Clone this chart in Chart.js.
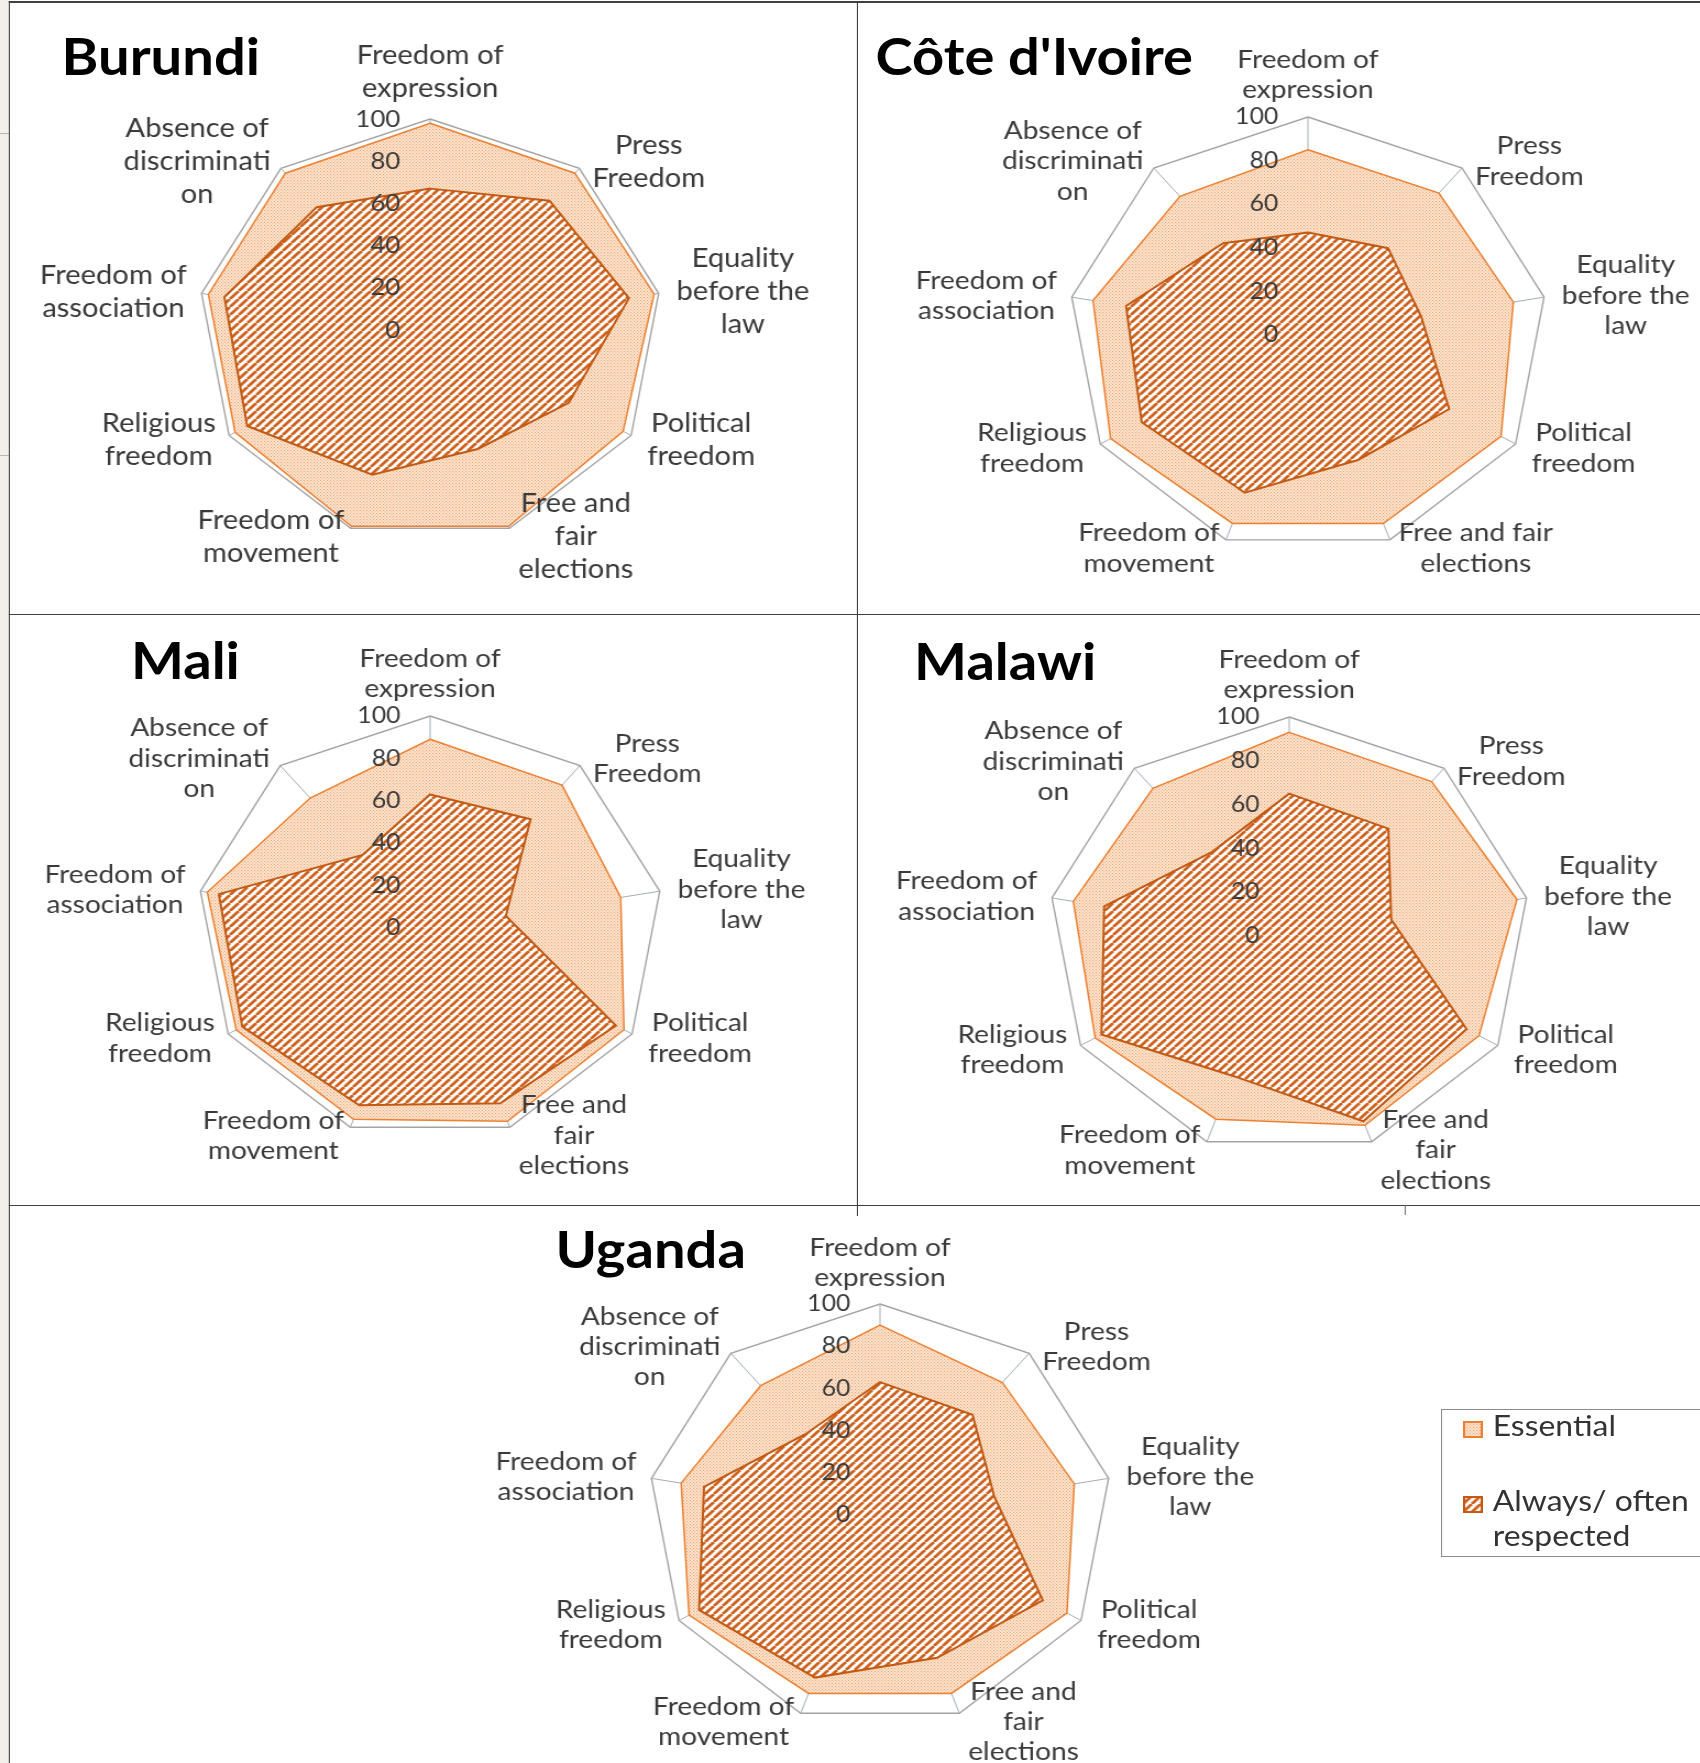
<!DOCTYPE html>
<html>
<head>
<meta charset="utf-8">
<title>Rights: essential vs. respected</title>
<script src="https://cdn.jsdelivr.net/npm/chart.js@4.4.0/dist/chart.umd.min.js"></script>
<style>
  html, body { margin: 0; padding: 0; width: 1700px; height: 1763px; overflow: hidden; background: #fff; }
  #page {
    position: absolute; left: 0; top: 0; width: 1546px; height: 1763px;
    transform: scaleX(1.1); transform-origin: 0 0;
    font-family: Lato, "Open Sans", sans-serif;
  }
  .strip { position: absolute; left: 0; top: 0; width: 8.2px; height: 1763px; background: #f3f0ea; }
  .nick { position: absolute; left: 0; width: 8px; height: 1px; background: #b9b6b0; }
  .rule { position: absolute; background: #404040; }
  .title { position: absolute; font-weight: 700; font-size: 51px; line-height: 1; color: #000; white-space: nowrap; }
  canvas.radar { position: absolute; }
  #legend {
    position: absolute; left: 1310px; top: 1409px; width: 260px; height: 148px;
    border: 1.5px solid #8c8c8c; box-sizing: border-box; background: #fff;
  }
  .lg-mark { position: absolute; }
  .lg-text { position: absolute; width: 205px; font-size: 29px; line-height: 35px; color: #333; }
</style>
</head>
<body>
<div id="page">
  <div class="strip"></div>
  <div class="nick" style="top:133px"></div>
  <div class="nick" style="top:455px"></div>

  <div class="rule" style="left:8.2px; top:1px; width:1540px; height:1.5px"></div>
  <div class="rule" style="left:8.2px; top:1px; width:1.2px; height:1762px"></div>
  <div class="rule" style="left:779px; top:1px; width:1.2px; height:1215px"></div>
  <div class="rule" style="left:8.2px; top:613.5px; width:1540px; height:1.5px"></div>
  <div class="rule" style="left:8.2px; top:1204.5px; width:1540px; height:1.5px"></div>
  <div class="rule" style="left:1277px; top:1205px; width:1px; height:10px; background:#777"></div>

  <div id="charts"></div>

  <div id="legend"></div>
</div>

<script>
// Category axes, clockwise from the top
const categories = [
  'Freedom of expression', 'Press Freedom', 'Equality before the law',
  'Political freedom', 'Free and fair elections', 'Freedom of movement',
  'Religious freedom', 'Freedom of association', 'Absence of discrimination'
];
// Axis captions as they wrap around each web
const categoryLines = [
  ['Freedom of', 'expression'], ['Press', 'Freedom'], ['Equality', 'before the', 'law'],
  ['Political', 'freedom'], ['Free and', 'fair', 'elections'], ['Freedom of', 'movement'],
  ['Religious', 'freedom'], ['Freedom of', 'association'], ['Absence of', 'discriminati', 'on']
];
const categoryLinesWide = [
  ['Freedom of', 'expression'], ['Press', 'Freedom'], ['Equality', 'before the', 'law'],
  ['Political', 'freedom'], ['Free and fair', 'elections'], ['Freedom of', 'movement'],
  ['Religious', 'freedom'], ['Freedom of', 'association'], ['Absence of', 'discriminati', 'on']
];
const radialTicks = [0, 20, 40, 60, 80, 100];
const seriesNames = ['Essential', 'Always/ often respected'];
const countries = ['Burundi', "Côte d'Ivoire", 'Mali', 'Malawi', 'Uganda'];

// Percentages per category (same order as categories)
const burundiEssential = [98, 97, 98, 96, 99, 99, 97, 97, 97];
const burundiRespected = [67, 80, 87, 69, 60, 73, 91, 90, 76];
const coteEssential    = [85, 85, 87, 93, 92, 92, 95, 91, 83];
const coteRespected    = [47, 52, 48, 68, 61, 77, 80, 77, 55];
const maliEssential    = [89, 88, 83, 96, 97, 96, 96, 97, 80];
const maliRespected    = [63, 67, 33, 92, 88, 89, 93, 92, 45];
const malawiEssential  = [93, 92, 96, 91, 92, 89, 93, 91, 88];
const malawiRespected  = [65, 64, 43, 85, 90, 68, 90, 78, 50];
const ugandaEssential  = [90, 82, 85, 93, 90, 90, 95, 87, 80];
const ugandaRespected  = [63, 62, 50, 81, 72, 82, 90, 77, 50];

const STRETCH = 1.1;          // page is drawn in a narrow frame, then widened
const FONT_FAMILY = 'Lato, "Open Sans", sans-serif';
const TEXT_COLOR = '#3a3a3a';

// Fine dot texture for the "Essential" area
function dotPattern() {
  const c = document.createElement('canvas');
  c.width = 12; c.height = 12;
  const g = c.getContext('2d');
  g.fillStyle = '#fce5d0'; g.fillRect(0, 0, 12, 12);
  g.fillStyle = '#e98844';
  for (let y = 0; y < 12; y += 6) {
    for (let x = 0; x < 12; x += 6) {
      g.fillRect(x, y, 1.7, 1.7);
      g.fillRect(x + 3, y + 3, 1.7, 1.7);
    }
  }
  const p = g.createPattern(c, 'repeat');
  p.setTransform(new DOMMatrix([0.5, 0, 0, 0.5, 0, 0]));
  return p;
}

// Wide upward diagonal hatching for the "respected" area
function stripePattern() {
  const n = 16;
  const c = document.createElement('canvas');
  c.width = n; c.height = n;
  const g = c.getContext('2d');
  g.fillStyle = '#ffffff'; g.fillRect(0, 0, n, n);
  g.strokeStyle = '#cf6420'; g.lineWidth = 5.6;
  g.beginPath();
  for (let k = -1; k <= 1; k++) { g.moveTo(k * n, n); g.lineTo(k * n + n, 0); }
  g.stroke();
  const p = g.createPattern(c, 'repeat');
  p.setTransform(new DOMMatrix([0.5, 0, 0, 0.5, 0, 0]));
  return p;
}

// Tick values along the top spoke and wrapped captions outside each vertex
function axisText(lines, fontPx, lineH, topGap) {
  return {
    id: 'axisText',
    afterDatasetsDraw(chart) {
      const scale = chart.scales.r;
      const ctx = chart.ctx;
      ctx.save();
      ctx.fillStyle = TEXT_COLOR;
      ctx.font = `${fontPx - 3}px ${FONT_FAMILY}`;
      ctx.textAlign = 'right';
      ctx.textBaseline = 'middle';
      scale.ticks.forEach(t => {
        const y = scale.yCenter - scale.getDistanceFromCenterForValue(t.value);
        ctx.fillText(String(t.value), scale.xCenter - 27, y);
      });

      ctx.font = `${fontPx}px ${FONT_FAMILY}`;
      ctx.textAlign = 'center';
      lines.forEach((ls, i) => {
        const p = scale.getPointPosition(i, scale.drawingArea);
        const a = scale.getIndexAngle(i);
        const s = Math.sin(a), c = Math.cos(a);
        const w = Math.max(...ls.map(l => ctx.measureText(l).width));
        const n = ls.length;
        let cx, cy;
        if (Math.abs(s) < 1e-6) {
          cx = p.x;
          cy = p.y - topGap - (n - 1) * lineH / 2;
        } else if (s > 0) {
          cx = p.x + (4 + 14 * Math.abs(s)) / STRETCH + w / 2;
          cy = p.y - 9 * c;
        } else {
          cx = p.x - (2 + 13 * Math.abs(s)) / STRETCH - w / 2;
          cy = p.y - 9 * c;
        }
        ls.forEach((l, k) => ctx.fillText(l, cx, cy + (k - (n - 1) / 2) * lineH));
      });
      ctx.restore();
    }
  };
}

// Frames (narrow page units): canvas box, web centre and radius, caption size
const panels = [
  { name: countries[0], lines: categoryLines,     ess: burundiEssential, resp: burundiRespected,
    box: [9, 3, 770, 610],   cx: 391,    cy: 330.5, r: 211, font: 26.5, lh: 33, gap: 31, title: [56, 30] },
  { name: countries[1], lines: categoryLinesWide, ess: coteEssential,    resp: coteRespected,
    box: [780, 3, 766, 610], cx: 1189.7, cy: 335.7, r: 218, font: 25.5, lh: 30.5, gap: 27, title: [796, 30] },
  { name: countries[2], lines: categoryLines,     ess: maliEssential,    resp: maliRespected,
    box: [9, 615, 770, 589], cx: 391,    cy: 928.3, r: 212, font: 25.5, lh: 30.5, gap: 27, title: [119, 634] },
  { name: countries[3], lines: categoryLines,     ess: malawiEssential,  resp: malawiRespected,
    box: [780, 615, 766, 589], cx: 1172.5, cy: 936.3, r: 219, font: 25.5, lh: 30.5, gap: 27, title: [831, 635] },
  { name: countries[4], lines: categoryLines,     ess: ugandaEssential,  resp: ugandaRespected,
    box: [9, 1206, 1290, 557], cx: 800.6, cy: 1515.3, r: 211, font: 25.5, lh: 30, gap: 26, title: [505, 1223] }
];

const holder = document.getElementById('charts');
panels.forEach(pn => {
  const [bx, by, bw, bh] = pn.box;
  const t = document.createElement('div');
  t.className = 'title';
  t.textContent = pn.name;
  t.style.left = pn.title[0] + 'px';
  t.style.top = pn.title[1] + 'px';
  holder.appendChild(t);

  const cv = document.createElement('canvas');
  cv.className = 'radar';
  cv.width = bw; cv.height = bh;
  cv.style.left = bx + 'px';
  cv.style.top = by + 'px';
  holder.appendChild(cv);

  const lx = pn.cx - bx, ly = pn.cy - by;
  new Chart(cv, {
    type: 'radar',
    data: {
      labels: categories,
      datasets: [
        { label: seriesNames[0], data: pn.ess, order: 1, fill: true, clip: false,
          backgroundColor: dotPattern(), borderColor: '#ec8133', borderWidth: 1.5, pointRadius: 0 },
        { label: seriesNames[1], data: pn.resp, order: 0, fill: true, clip: false,
          backgroundColor: stripePattern(), borderColor: '#c25a14', borderWidth: 2, pointRadius: 0 }
      ]
    },
    options: {
      responsive: false,
      animation: false,
      devicePixelRatio: 1,
      layout: { padding: { left: lx - pn.r, right: bw - lx - pn.r, top: ly - pn.r, bottom: bh - ly - pn.r } },
      elements: { line: { tension: 0 } },
      plugins: { legend: { display: false }, tooltip: { enabled: false } },
      scales: {
        r: {
          min: 0, max: 100,
          afterBuildTicks: s => { s.ticks = radialTicks.map(v => ({ value: v })); },
          ticks: { display: false },
          pointLabels: { display: false },
          grid: { color: c => (c.tick && c.tick.value === 100) ? '#a3a3a3' : 'rgba(0,0,0,0)', lineWidth: 1.4 },
          angleLines: { color: '#a4acb8', lineWidth: 1 }
        }
      }
    },
    plugins: [axisText(pn.lines, pn.font, pn.lh, pn.gap)]
  });
});

// Shared key for both series
const legend = document.getElementById('legend');
const keyRows = [
  { text: seriesNames[0], fill: dotPattern(), edge: '#ec8133', mark: [19, 11], txt: [46, -2.8] },
  { text: seriesNames[1], fill: stripePattern(), edge: '#c25a14', mark: [19, 86], txt: [46, 72.2] }
];
keyRows.forEach(k => {
  const m = document.createElement('canvas');
  m.className = 'lg-mark';
  m.width = 18; m.height = 17;
  m.style.left = k.mark[0] + 'px';
  m.style.top = k.mark[1] + 'px';
  const g = m.getContext('2d');
  g.fillStyle = k.fill; g.fillRect(0, 0, 18, 17);
  g.strokeStyle = k.edge; g.lineWidth = 2; g.strokeRect(1, 1, 16, 15);
  legend.appendChild(m);
  const t = document.createElement('div');
  t.className = 'lg-text';
  t.textContent = k.text;
  t.style.left = k.txt[0] + 'px';
  t.style.top = k.txt[1] + 'px';
  legend.appendChild(t);
});
</script>
</body>
</html>
